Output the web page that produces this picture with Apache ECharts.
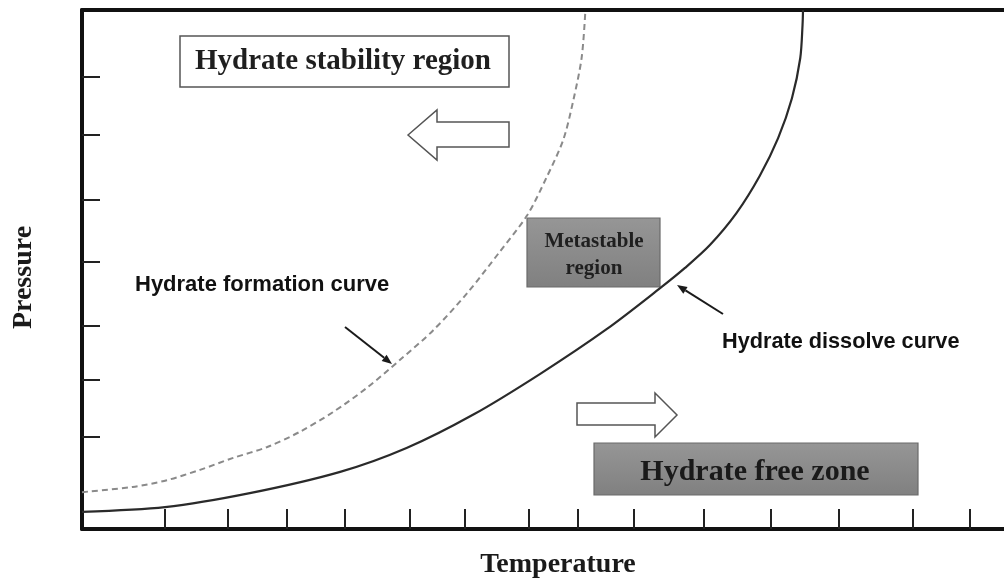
<!DOCTYPE html>
<html>
<head>
<meta charset="utf-8">
<script src="https://cdn.jsdelivr.net/npm/echarts@6/dist/echarts.min.js"></script>
<style>
  html, body { margin: 0; padding: 0; background: #fff; }
  #chart { width: 1004px; height: 579px; }
</style>
</head>
<body>
<div id="chart"></div>
<script>
// dissolve curve (solid)
const dissolveT = [0, 9.0, 18.2, 28.0, 35.2, 42.4, 49.7, 56.9, 62.7, 65.4, 68.1, 71.0, 73.5, 75.5, 77.0, 77.9, 78.15, 78.2]
const dissolveP = [3.3, 4.2, 6.9, 11.0, 15.6, 22.0, 29.9, 38.5, 46.4, 50.3, 54.7, 60.9, 68.0, 75.3, 83.0, 90.7, 97.1, 100]
// formation curve (dashed)
const formationT = [0, 5.5, 9.2, 12.8, 16.4, 20.1, 23.6, 27.2, 30.9, 34.5, 38.1, 41.8, 45.3, 48.3, 50.4, 52.2, 53.3, 54.2, 54.6]
const formationP = [7.1, 8.1, 9.4, 11.4, 13.7, 15.8, 18.7, 22.5, 27.2, 32.6, 38.3, 45.5, 53.4, 60.5, 67.8, 75.0, 82.7, 90.9, 100]
// tick positions (no labels in the original)
const xTicks = [9.0, 15.8, 22.2, 28.5, 35.5, 41.5, 48.5, 53.8, 59.8, 67.4, 74.7, 82.1, 90.1, 96.3]
const yTicks = [17.7, 28.7, 39.1, 51.4, 63.4, 75.9, 87.1]

const serif = 'Liberation Serif'
const sans = 'Liberation Sans'

// small arrow: line + filled head at the tip
function pointer(x1, y1, x2, y2) {
  const dx = x2 - x1, dy = y2 - y1
  const len = Math.sqrt(dx * dx + dy * dy)
  const ux = dx / len, uy = dy / len
  const hl = 10, hw = 4
  const bx = x2 - ux * hl, by = y2 - uy * hl
  return [
    {
      type: 'line',
      shape: { x1: x1, y1: y1, x2: bx, y2: by },
      style: { stroke: '#1a1a1a', lineWidth: 2 }
    },
    {
      type: 'polygon',
      shape: { points: [[x2, y2], [bx - uy * hw, by + ux * hw], [bx + uy * hw, by - ux * hw]] },
      style: { fill: '#1a1a1a' }
    }
  ]
}

const grayFill = {
  type: 'linear', x: 0, y: 0, x2: 0, y2: 1,
  colorStops: [{ offset: 0, color: '#969696' }, { offset: 1, color: '#808080' }]
}

const chart = echarts.init(document.getElementById('chart'), null, { renderer: 'canvas' })

const option = {
  backgroundColor: '#fff',
  animation: false,
  grid: { left: 82, right: 0, top: 10, bottom: 50, outerBoundsMode: 'none', containLabel: false },
  xAxis: [
    {
      type: 'value',
      min: 0,
      max: 100,
      name: 'Temperature',
      nameLocation: 'middle',
      nameGap: 22,
      nameTextStyle: { fontFamily: serif, fontWeight: 'bold', fontSize: 28, color: '#1a1a1a', padding: [0, 0, 0, 30] },
      axisLine: { show: true, lineStyle: { color: '#111', width: 4 } },
      axisTick: { show: true, inside: true, length: 20, customValues: xTicks, lineStyle: { color: '#222', width: 2 } },
      axisLabel: { show: false },
      splitLine: { show: false }
    },
    {
      type: 'value',
      position: 'top',
      min: 0,
      max: 100,
      axisLine: { show: true, lineStyle: { color: '#111', width: 4 } },
      axisTick: { show: false },
      axisLabel: { show: false },
      splitLine: { show: false }
    }
  ],
  yAxis: {
    type: 'value',
    min: 0,
    max: 100,
    name: 'Pressure',
    nameLocation: 'middle',
    nameGap: 44,
    nameRotate: 90,
    nameTextStyle: { fontFamily: serif, fontWeight: 'bold', fontSize: 28, color: '#1a1a1a', padding: [0, 16, 0, 0] },
    axisLine: { show: true, lineStyle: { color: '#111', width: 4 } },
    axisTick: { show: true, inside: true, length: 18, customValues: yTicks, lineStyle: { color: '#222', width: 2 } },
    axisLabel: { show: false },
    splitLine: { show: false }
  },
  series: [
    {
      name: 'Hydrate dissolve curve',
      type: 'line',
      smooth: 0.3,
      showSymbol: false,
      lineStyle: { color: '#2a2a2a', width: 2.2 },
      data: dissolveT.map((t, i) => [t, dissolveP[i]])
    },
    {
      name: 'Hydrate formation curve',
      type: 'line',
      smooth: 0.3,
      showSymbol: false,
      lineStyle: { color: '#8a8a8a', width: 2, type: [6, 4] },
      data: formationT.map((t, i) => [t, formationP[i]])
    }
  ],
  graphic: [
    // stability box
    {
      type: 'rect',
      shape: { x: 180, y: 36, width: 329, height: 51 },
      style: { fill: '#fff', stroke: '#555', lineWidth: 1.5 }
    },
    {
      type: 'text',
      x: 343, y: 62,
      style: { text: 'Hydrate stability region', font: 'bold 29px "' + serif + '"', fill: '#1f1f1f', align: 'center', verticalAlign: 'middle' }
    },
    // hollow arrow to the left
    {
      type: 'polygon',
      shape: { points: [[408, 135], [437, 110], [437, 122], [509, 122], [509, 147], [437, 147], [437, 160]] },
      style: { fill: '#fff', stroke: '#555', lineWidth: 1.5 }
    },
    // hollow arrow to the right
    {
      type: 'polygon',
      shape: { points: [[577, 403], [655, 403], [655, 393], [677, 415], [655, 437], [655, 425], [577, 425]] },
      style: { fill: '#fff', stroke: '#555', lineWidth: 1.5 }
    },
    // metastable box
    {
      type: 'rect',
      shape: { x: 527, y: 218, width: 133, height: 69 },
      style: { fill: grayFill, stroke: '#6a6a6a', lineWidth: 1.2 }
    },
    {
      type: 'text',
      x: 594, y: 255,
      style: { text: 'Metastable\nregion', font: 'bold 21px "' + serif + '"', lineHeight: 27, fill: '#1f1f1f', align: 'center', verticalAlign: 'middle' }
    },
    // free zone box
    {
      type: 'rect',
      shape: { x: 594, y: 443, width: 324, height: 52 },
      style: { fill: grayFill, stroke: '#6a6a6a', lineWidth: 1.2 }
    },
    {
      type: 'text',
      x: 755, y: 472,
      style: { text: 'Hydrate free zone', font: 'bold 30px "' + serif + '"', fill: '#1a1a1a', align: 'center', verticalAlign: 'middle' }
    },
    // curve labels
    {
      type: 'text',
      x: 135, y: 285,
      style: { text: 'Hydrate formation curve', font: 'bold 22px "' + sans + '"', fill: '#111', align: 'left', verticalAlign: 'middle' }
    },
    {
      type: 'text',
      x: 722, y: 342,
      style: { text: 'Hydrate dissolve curve', font: 'bold 21.7px "' + sans + '"', fill: '#111', align: 'left', verticalAlign: 'middle' }
    },
    ...pointer(345, 327, 392, 364),
    ...pointer(723, 314, 677, 285)
  ]
}

chart.setOption(option)
</script>
</body>
</html>
